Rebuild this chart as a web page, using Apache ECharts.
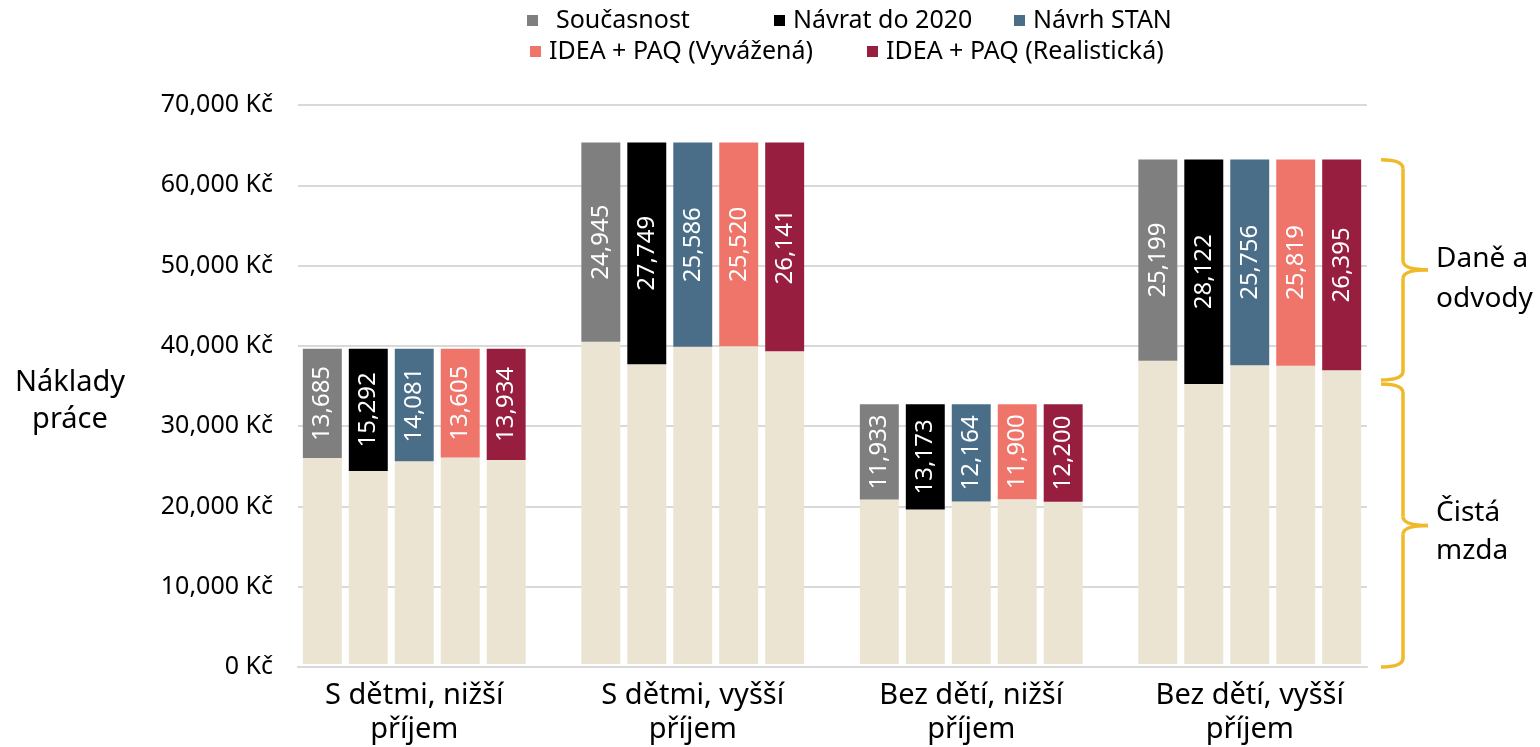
<!DOCTYPE html>
<html>
<head>
<meta charset="utf-8">
<script src="https://cdn.jsdelivr.net/npm/echarts@6/dist/echarts.min.js"></script>
<style>
  html, body { margin: 0; padding: 0; background: #fff; }
  #chart { width: 1540px; height: 747px; }
</style>
</head>
<body>
<div id="chart"></div>
<script>
// kategorie (osa x)
var categories = ['S dětmi, nižší\npříjem', 'S dětmi, vyšší\npříjem', 'Bez dětí, nižší\npříjem', 'Bez dětí, vyšší\npříjem'];
var scenarios = ['Současnost', 'Návrat do 2020', 'Návrh STAN', 'IDEA + PAQ (Vyvážená)', 'IDEA + PAQ (Realistická)'];
var colors = ['#7f7f7f', '#000000', '#4b6e88', '#ef756b', '#971e3f'];
var yTicks = [0, 10000, 20000, 30000, 40000, 50000, 60000, 70000];

// čistá mzda (béžová část)
var netSoucasnost = [25785, 40355, 20587, 37981];
var netNavrat2020 = [24178, 37551, 19347, 35058];
var netStan = [25389, 39714, 20356, 37424];
var netIdeaVyvazena = [25865, 39780, 20620, 37361];
var netIdeaRealisticka = [25536, 39159, 20320, 36785];

// daně a odvody (barevná část)
var taxSoucasnost = [13685, 24945, 11933, 25199];
var taxNavrat2020 = [15292, 27749, 13173, 28122];
var taxStan = [14081, 25586, 12164, 25756];
var taxIdeaVyvazena = [13605, 25520, 11900, 25819];
var taxIdeaRealisticka = [13934, 26141, 12200, 26395];

var netData = [netSoucasnost, netNavrat2020, netStan, netIdeaVyvazena, netIdeaRealisticka];
var taxData = [taxSoucasnost, taxNavrat2020, taxStan, taxIdeaVyvazena, taxIdeaRealisticka];

var FONT = 'Noto Sans';
var chart = echarts.init(document.getElementById('chart'));

var series = [];
scenarios.forEach(function(name, i) {
  series.push({
    name: 'Čistá mzda',
    type: 'bar',
    stack: 's' + i,
    xAxisIndex: 0, yAxisIndex: 0,
    barCategoryGap: '20%',
    barGap: '18%',
    itemStyle: { color: '#ebe4d2' },
    silent: true,
    data: netData[i]
  });
  series.push({
    name: name,
    type: 'bar',
    stack: 's' + i,
    xAxisIndex: 0, yAxisIndex: 0,
    barCategoryGap: '20%',
    barGap: '18%',
    itemStyle: { color: colors[i] },
    label: {
      show: true,
      position: 'inside',
      rotate: 90,
      color: '#fff',
      fontFamily: FONT,
      fontSize: 24,
      formatter: function(p) { return p.value.toLocaleString('en-US'); }
    },
    data: taxData[i]
  });
});

// legenda - každá položka zvlášť kvůli rozmístění
var legendPos = [[527, 8], [774, 8], [1014, 8], [530, 39], [867, 39]];
var legends = scenarios.map(function(name, i) {
  return {
    data: [name], left: legendPos[i][0], top: legendPos[i][1], padding: 0,
    icon: 'rect', itemWidth: 11, itemHeight: 11,
    textStyle: { color: '#000', fontFamily: FONT, fontSize: 25, padding: [0, 0, 0, i === 0 ? 13 : 3] }
  };
});

chart.setOption({
  animation: false,
  textStyle: { fontFamily: FONT },
  legend: legends,
  grid: [
    { left: 275, right: 151, top: 105, bottom: 80 },
    { left: 298, right: 173, top: 105, bottom: 80 }
  ],
  xAxis: [
    {
      type: 'category', gridIndex: 0, data: categories,
      axisLine: { show: false }, axisTick: { show: false },
      axisLabel: { color: '#000', fontFamily: FONT, fontSize: 29, lineHeight: 34, margin: 15 }
    },
    {
      type: 'category', gridIndex: 1, data: categories,
      axisLine: { lineStyle: { color: '#d9d9d9', width: 2 } }, axisTick: { show: false },
      axisLabel: { show: false }
    }
  ],
  yAxis: [
    { type: 'value', gridIndex: 0, min: 0, max: 70000, interval: 10000, show: false },
    {
      type: 'value', gridIndex: 1, min: yTicks[0], max: yTicks[yTicks.length - 1], interval: 10000,
      splitLine: { lineStyle: { color: '#d9d9d9', width: 2 } },
      axisLabel: {
        color: '#000', fontFamily: FONT, fontSize: 25, margin: 25,
        formatter: function(v) { return v.toLocaleString('en-US') + ' Kč'; }
      }
    }
  ],
  series: series
});

// složené závorky vpravo + popisky
var yTop = chart.convertToPixel({ yAxisIndex: 1 }, 63180);
var yMid = chart.convertToPixel({ yAxisIndex: 1 }, 35500);
var yBot = chart.convertToPixel({ yAxisIndex: 1 }, 0);
var braceStyle = { fill: null, stroke: '#f0b929', lineWidth: 3.5 };

function brace(y0, y1) {
  var x0 = 1381, x1 = 1403, x2 = 1428, r = 9, ym = (y0 + y1) / 2;
  return [
    { type: 'bezierCurve', shape: { x1: x0, y1: y0, cpx1: x1, cpy1: y0, x2: x1, y2: y0 + r }, style: braceStyle },
    { type: 'line', shape: { x1: x1, y1: y0 + r, x2: x1, y2: ym - r }, style: braceStyle },
    { type: 'bezierCurve', shape: { x1: x1, y1: ym - r, cpx1: x1, cpy1: ym, x2: x2, y2: ym }, style: braceStyle },
    { type: 'bezierCurve', shape: { x1: x2, y1: ym, cpx1: x1, cpy1: ym, x2: x1, y2: ym + r }, style: braceStyle },
    { type: 'line', shape: { x1: x1, y1: ym + r, x2: x1, y2: y1 - r }, style: braceStyle },
    { type: 'bezierCurve', shape: { x1: x1, y1: y1 - r, cpx1: x1, cpy1: y1, x2: x0, y2: y1 }, style: braceStyle }
  ];
}

var labelFont = '28px "' + FONT + '"';
var graphics = brace(yTop, yMid - 2).concat(brace(yMid + 2, yBot)).concat([
  { type: 'text', x: 1436, y: (yTop + yMid) / 2 + 8, style: { text: 'Daně a\nodvody', fill: '#000', font: labelFont, lineHeight: 40, verticalAlign: 'middle', textVerticalAlign: 'middle' } },
  { type: 'text', x: 1436, y: (yMid + yBot) / 2 + 8, style: { text: 'Čistá\nmzda', fill: '#000', font: labelFont, lineHeight: 38, verticalAlign: 'middle', textVerticalAlign: 'middle' } },
  { type: 'text', x: 70, y: 401, style: { text: 'Náklady\npráce', fill: '#000', font: '29px "' + FONT + '"', lineHeight: 37, align: 'center', textAlign: 'center', verticalAlign: 'middle', textVerticalAlign: 'middle' } }
]);

chart.setOption({ graphic: graphics });
</script>
</body>
</html>
